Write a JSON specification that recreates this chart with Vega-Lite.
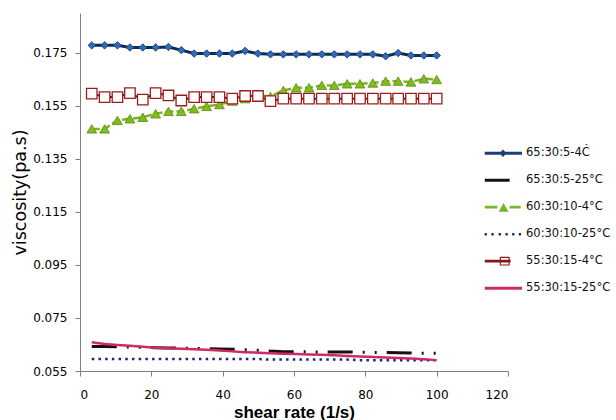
{
  "$schema": "https://vega.github.io/schema/vega-lite/v6.json",
  "width": 428,
  "height": 358,
  "autosize": {"type": "none"},
  "padding": {"left": 80, "top": 13, "right": 108, "bottom": 49},
  "background": "white",
  "config": {
    "view": {"stroke": null},
    "axis": {
      "grid": false,
      "domainColor": "#7f7f7f",
      "tickColor": "#7f7f7f",
      "tickSize": 5,
      "labelFont": "DejaVu Sans",
      "labelFontSize": 12,
      "labelColor": "#000000",
      "titleColor": "#000000"
    },
    "legend": {
      "orient": "none",
      "legendX": 404,
      "legendY": 127,
      "symbolSize": 1444,
      "clipHeight": 26.4,
      "rowPadding": 0,
      "labelFont": "DejaVu Sans",
      "labelFontSize": 11.5,
      "labelColor": "#111111",
      "labelOffset": 4,
      "padding": 0,
      "symbolOpacity": 1,
      "symbolStrokeWidth": 0
    }
  },
  "data": {
    "values": [
      {"x": 3.3, "b4": 0.1778, "b25": 0.0642, "g4": 0.1463, "d25": 0.0595, "r4": 0.1596, "p25": 0.0658},
      {"x": 6.9, "b4": 0.1778, "b25": 0.0642, "g4": 0.1463, "d25": 0.0595, "r4": 0.1583, "p25": 0.0652},
      {"x": 10.5, "b4": 0.1778, "b25": 0.0641, "g4": 0.1495, "d25": 0.0595, "r4": 0.1583, "p25": 0.0648},
      {"x": 14.0, "b4": 0.1770, "b25": 0.0640, "g4": 0.1501, "d25": 0.0595, "r4": 0.1598, "p25": 0.0645},
      {"x": 17.6, "b4": 0.1770, "b25": 0.0639, "g4": 0.1507, "d25": 0.0595, "r4": 0.1573, "p25": 0.0641},
      {"x": 21.2, "b4": 0.1770, "b25": 0.0638, "g4": 0.1520, "d25": 0.0595, "r4": 0.1598, "p25": 0.0638},
      {"x": 24.8, "b4": 0.1772, "b25": 0.0637, "g4": 0.1529, "d25": 0.0595, "r4": 0.1589, "p25": 0.0636},
      {"x": 28.4, "b4": 0.1760, "b25": 0.0636, "g4": 0.1529, "d25": 0.0595, "r4": 0.1570, "p25": 0.0634},
      {"x": 32.0, "b4": 0.1747, "b25": 0.0635, "g4": 0.1539, "d25": 0.0595, "r4": 0.1583, "p25": 0.0632},
      {"x": 35.5, "b4": 0.1747, "b25": 0.0634, "g4": 0.1548, "d25": 0.0595, "r4": 0.1583, "p25": 0.0630},
      {"x": 39.1, "b4": 0.1747, "b25": 0.0633, "g4": 0.1555, "d25": 0.0595, "r4": 0.1583, "p25": 0.0627},
      {"x": 42.7, "b4": 0.1747, "b25": 0.0632, "g4": 0.1568, "d25": 0.0595, "r4": 0.1577, "p25": 0.0624},
      {"x": 46.3, "b4": 0.1757, "b25": 0.0630, "g4": 0.1577, "d25": 0.0595, "r4": 0.1587, "p25": 0.0621},
      {"x": 49.9, "b4": 0.1747, "b25": 0.0628, "g4": 0.1589, "d25": 0.0595, "r4": 0.1587, "p25": 0.0619},
      {"x": 53.4, "b4": 0.1744, "b25": 0.0625, "g4": 0.1585, "d25": 0.0593, "r4": 0.1568, "p25": 0.0617},
      {"x": 57.0, "b4": 0.1744, "b25": 0.0623, "g4": 0.1608, "d25": 0.0593, "r4": 0.1577, "p25": 0.0615},
      {"x": 60.6, "b4": 0.1744, "b25": 0.0623, "g4": 0.1618, "d25": 0.0593, "r4": 0.1577, "p25": 0.0614},
      {"x": 64.2, "b4": 0.1744, "b25": 0.0622, "g4": 0.1618, "d25": 0.0593, "r4": 0.1577, "p25": 0.0612},
      {"x": 67.8, "b4": 0.1744, "b25": 0.0622, "g4": 0.1627, "d25": 0.0593, "r4": 0.1577, "p25": 0.0611},
      {"x": 71.3, "b4": 0.1744, "b25": 0.0622, "g4": 0.1627, "d25": 0.0593, "r4": 0.1577, "p25": 0.0609},
      {"x": 74.9, "b4": 0.1744, "b25": 0.0622, "g4": 0.1633, "d25": 0.0593, "r4": 0.1577, "p25": 0.0607},
      {"x": 78.5, "b4": 0.1744, "b25": 0.0621, "g4": 0.1633, "d25": 0.0591, "r4": 0.1577, "p25": 0.0605},
      {"x": 82.1, "b4": 0.1744, "b25": 0.0620, "g4": 0.1636, "d25": 0.0591, "r4": 0.1577, "p25": 0.0603},
      {"x": 85.7, "b4": 0.1737, "b25": 0.0620, "g4": 0.1643, "d25": 0.0591, "r4": 0.1577, "p25": 0.0601},
      {"x": 89.2, "b4": 0.1749, "b25": 0.0619, "g4": 0.1643, "d25": 0.0591, "r4": 0.1577, "p25": 0.0599},
      {"x": 92.8, "b4": 0.1740, "b25": 0.0618, "g4": 0.1640, "d25": 0.0591, "r4": 0.1577, "p25": 0.0597},
      {"x": 96.4, "b4": 0.1740, "b25": 0.0617, "g4": 0.1652, "d25": 0.0591, "r4": 0.1577, "p25": 0.0594},
      {"x": 100, "b4": 0.1740, "b25": 0.0617, "g4": 0.1649, "d25": 0.0591, "r4": 0.1577, "p25": 0.0591}
    ]
  },
  "transform": [
    {"fold": ["b4", "b25", "g4", "d25", "r4", "p25"], "as": ["s", "v"]}
  ],
  "encoding": {
    "x": {
      "field": "x",
      "type": "quantitative",
      "scale": {"domain": [0, 120], "nice": false, "zero": false},
      "axis": {
        "values": [0, 20, 40, 60, 80, 100, 120],
        "title": "shear rate (1/s)",
        "titleFont": "Liberation Sans",
        "titleFontWeight": "bold",
        "titleFontSize": 17,
        "titlePadding": 4,
        "labelPadding": 13
      }
    },
    "y": {
      "field": "v",
      "type": "quantitative",
      "scale": {"domain": [0.055, 0.19], "nice": false, "zero": false},
      "axis": {
        "values": [0.055, 0.075, 0.095, 0.115, 0.135, 0.155, 0.175],
        "format": ".3f",
        "title": "viscosity(pa.s)",
        "titleFont": "DejaVu Sans",
        "titleFontWeight": "normal",
        "titleFontSize": 17.5,
        "titlePadding": 3,
        "labelPadding": 8
      }
    }
  },
  "layer": [
    {
      "transform": [{"filter": "datum.s === 'b4'"}],
      "mark": {"type": "line", "stroke": "#0f2a55", "strokeWidth": 3}
    },
    {
      "transform": [{"filter": "datum.s === 'b4'"}],
      "mark": {"type": "point", "shape": "diamond", "filled": true, "fill": "#2d6cb5", "stroke": "#1b4a8a", "strokeWidth": 1, "size": 55, "opacity": 1}
    },
    {
      "transform": [{"filter": "datum.s === 'b25'"}],
      "mark": {"type": "line", "stroke": "#1e0d0d", "strokeWidth": 3, "strokeDash": [25, 10, 2, 10, 2, 10]}
    },
    {
      "transform": [{"filter": "datum.s === 'g4'"}],
      "mark": {"type": "line", "stroke": "#78b428", "strokeWidth": 2.5, "strokeDash": [8, 3]}
    },
    {
      "transform": [{"filter": "datum.s === 'g4'"}],
      "mark": {"type": "point", "shape": "triangle-up", "filled": true, "fill": "#80bc1e", "stroke": "#5a8a10", "strokeWidth": 0.8, "size": 95, "opacity": 1}
    },
    {
      "transform": [{"filter": "datum.s === 'd25'"}],
      "mark": {"type": "line", "stroke": "#1b2a6e", "strokeWidth": 2.5, "strokeDash": [2.5, 4.2]}
    },
    {
      "transform": [{"filter": "datum.s === 'r4'"}],
      "mark": {"type": "line", "stroke": "#6d1010", "strokeWidth": 2}
    },
    {
      "transform": [{"filter": "datum.s === 'r4'"}],
      "mark": {"type": "point", "shape": "square", "filled": true, "fill": "#ffffff", "stroke": "#9a1c1c", "strokeWidth": 1.3, "size": 110, "opacity": 1}
    },
    {
      "transform": [{"filter": "datum.s === 'p25'"}],
      "mark": {"type": "line", "stroke": "#cc2a68", "strokeWidth": 2.5}
    },
    {
      "transform": [{"filter": "datum.x < 0"}],
      "mark": {"type": "point", "filled": true, "opacity": 1},
      "encoding": {
        "color": {
          "field": "s",
          "type": "nominal",
          "scale": {
            "domain": ["65:30:5-4Ċ", "65:30:5-25°C", "60:30:10-4°C", "60:30:10-25°C", "55:30:15-4°C", "55:30:15-25°C"],
            "range": ["#1c3f75", "#1e0d0d", "#78b428", "#1b2a6e", "#8a1515", "#cc2a68"]
          },
          "legend": {"title": null}
        },
        "shape": {
          "field": "s",
          "type": "nominal",
          "scale": {
            "domain": ["65:30:5-4Ċ", "65:30:5-25°C", "60:30:10-4°C", "60:30:10-25°C", "55:30:15-4°C", "55:30:15-25°C"],
            "range": [
              "M-0.96,-0.08H1V0.08H-0.96ZM0,-0.2L0.19,0L0,0.2L-0.19,0Z",
              "M-0.96,-0.08H0.35V0.08H-0.96Z",
              "M-0.96,-0.07H-0.3V0.07H-0.96ZM0.35,-0.07H0.93V0.07H0.35ZM0.03,-0.22L0.29,0.24L-0.23,0.24Z",
              "M-0.97,-0.065H-0.85V0.065H-0.97ZM-0.61,-0.065H-0.49V0.065H-0.61ZM-0.23,-0.065H-0.11V0.065H-0.23ZM0.13,-0.065H0.25V0.065H0.13ZM0.48,-0.065H0.6V0.065H0.48ZM0.83,-0.065H0.95V0.065H0.83Z",
              "M-0.96,-0.07H0.4V0.07H-0.96ZM-0.17,-0.23H0.35V0.23H-0.17ZM-0.11,-0.17V0.17H0.29V-0.17Z",
              "M-0.96,-0.08H1V0.08H-0.96Z"
            ]
          },
          "legend": {"title": null}
        }
      }
    }
  ]
}
